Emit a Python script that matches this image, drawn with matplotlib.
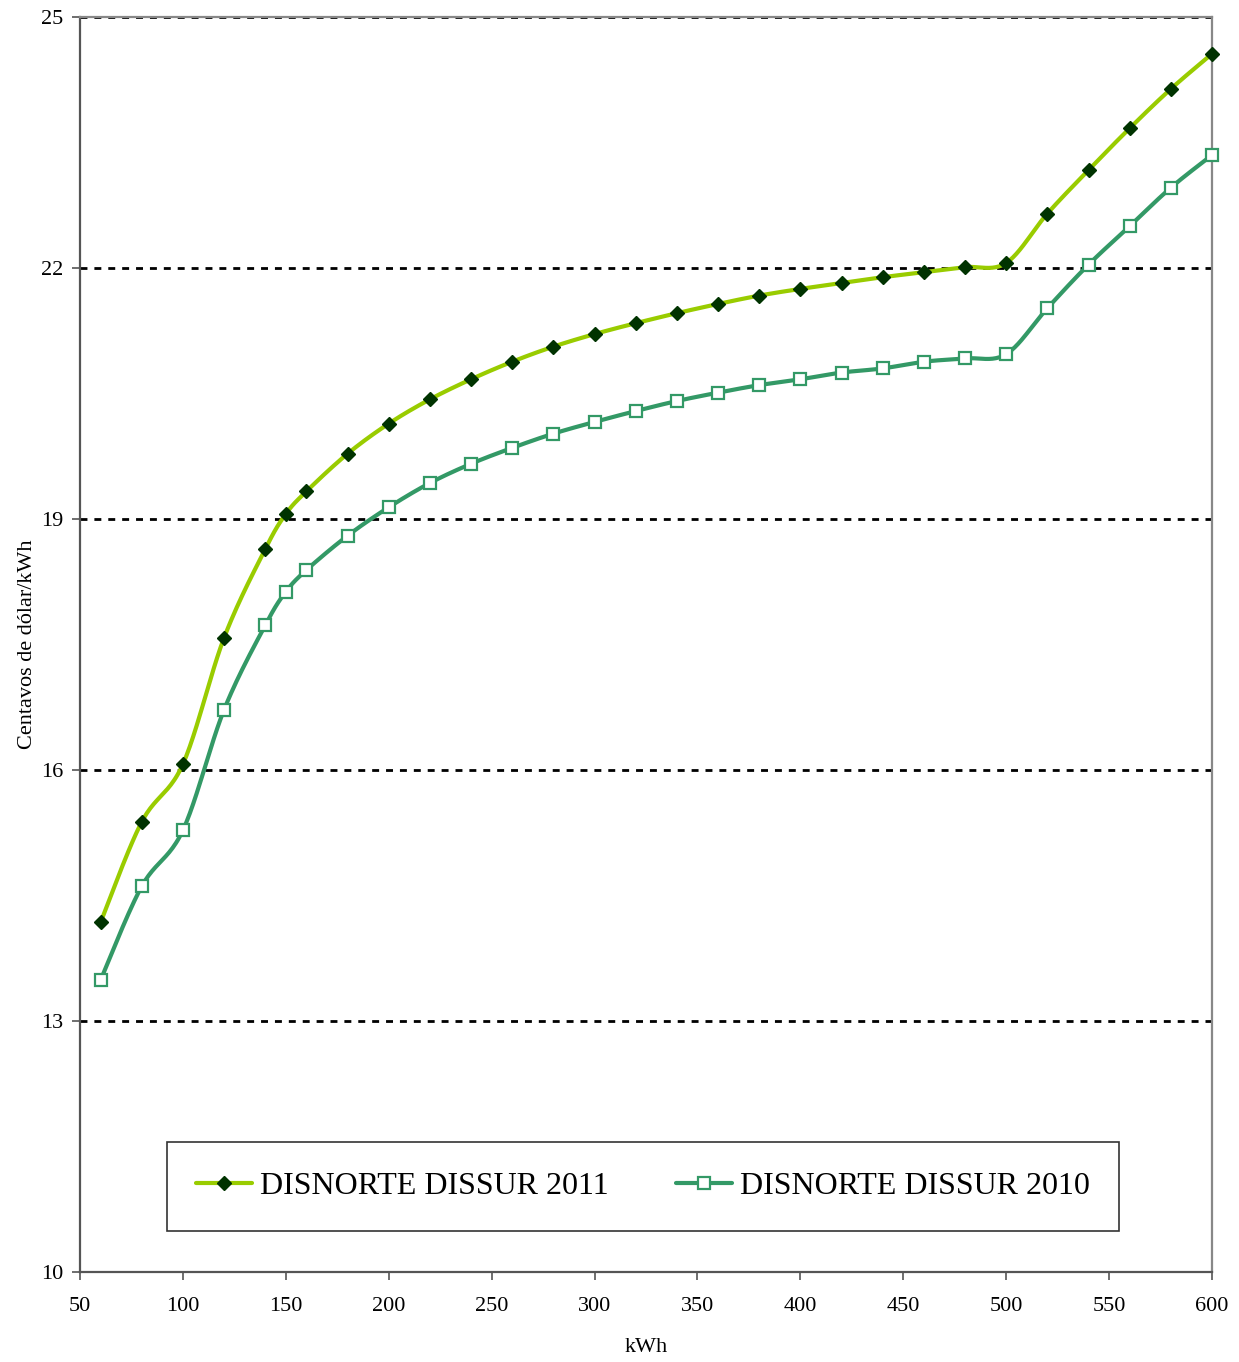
import numpy as np
import matplotlib
matplotlib.use("Agg")
import matplotlib.pyplot as plt
from matplotlib.lines import Line2D

kwh = [60, 80, 100, 120, 140, 150, 160, 180, 200, 220, 240, 260, 280, 300, 320,
       340, 360, 380, 400, 420, 440, 460, 480, 500, 520, 540, 560, 580, 600]
tarifa_2011 = [14.18, 15.38, 16.07, 17.58, 18.64, 19.06, 19.33, 19.78, 20.14, 20.43,
               20.67, 20.88, 21.06, 21.21, 21.34, 21.46, 21.57, 21.67, 21.75, 21.82,
               21.89, 21.95, 22.01, 22.06, 22.65, 23.17, 23.67, 24.14, 24.56]
tarifa_2010 = [13.49, 14.61, 15.28, 16.72, 17.73, 18.13, 18.39, 18.80, 19.14, 19.43,
               19.66, 19.85, 20.02, 20.16, 20.29, 20.41, 20.51, 20.60, 20.67, 20.75,
               20.80, 20.88, 20.92, 20.97, 21.52, 22.04, 22.50, 22.96, 23.35]
label_2011 = "DISNORTE DISSUR 2011"
label_2010 = "DISNORTE DISSUR 2010"
xticks = [50, 100, 150, 200, 250, 300, 350, 400, 450, 500, 550, 600]
yticks = [10, 13, 16, 19, 22, 25]


def smooth(xs, ys, n=24):
    """Uniform Catmull-Rom curve through the points (Excel-like smoothing)."""
    x = np.asarray(xs, float)
    y = np.asarray(ys, float)
    px = np.concatenate([[x[0]], x, [x[-1]]])
    py = np.concatenate([[y[0]], y, [y[-1]]])
    t = np.linspace(0, 1, n, endpoint=False)
    ox, oy = [], []
    for i in range(1, len(px) - 2):
        for arr, out in ((px, ox), (py, oy)):
            p0, p1, p2, p3 = arr[i - 1], arr[i], arr[i + 1], arr[i + 2]
            out.extend(0.5 * ((2 * p1) + (-p0 + p2) * t
                              + (2 * p0 - 5 * p1 + 4 * p2 - p3) * t ** 2
                              + (-p0 + 3 * p1 - 3 * p2 + p3) * t ** 3))
    ox.append(x[-1])
    oy.append(y[-1])
    return np.array(ox), np.array(oy)


plt.rcParams['font.family'] = ['Liberation Serif', 'DejaVu Serif']

fig = plt.figure(figsize=(12.39, 13.62), dpi=100)
ax = fig.add_axes([80 / 1239, 90 / 1362, 1132 / 1239, 1255 / 1362])

c2011_line = '#99CC00'
c2011_mark = '#003300'
c2010 = '#339966'

for yv in yticks[1:]:
    ax.axhline(yv, color='black', lw=2.0, ls=(0, (2.5, 2.5)), zorder=1)

sx, sy = smooth(kwh, tarifa_2011)
ax.plot(sx, sy, color=c2011_line, lw=3.0, zorder=3, solid_capstyle='round')
ax.plot(kwh, tarifa_2011, ls='none', marker='D', ms=7.5, color=c2011_mark,
        mec=c2011_mark, zorder=4, clip_on=False)

sx, sy = smooth(kwh, tarifa_2010)
ax.plot(sx, sy, color=c2010, lw=3.0, zorder=3, solid_capstyle='round')
ax.plot(kwh, tarifa_2010, ls='none', marker='s', ms=8.5, mfc='white', mec=c2010,
        mew=1.6, zorder=4, clip_on=False)

ax.set_xlim(50, 600)
ax.set_ylim(10, 25)
ax.set_xticks(xticks)
ax.set_yticks(yticks)
ax.tick_params(axis='both', direction='out', length=6, width=1.2, color='#555555',
               labelsize=16)
ax.tick_params(axis='x', pad=12)
ax.tick_params(axis='y', pad=6)

for side in ['left', 'bottom']:
    ax.spines[side].set_color('#555555')
    ax.spines[side].set_linewidth(1.6)
for side in ['top', 'right']:
    ax.spines[side].set_color('#888888')
    ax.spines[side].set_linewidth(1.6)

ax.set_xlabel('kWh', fontsize=16, labelpad=16)
ax.set_ylabel('Centavos de dólar/kWh', fontsize=16, labelpad=3)

handles = [
    Line2D([], [], color=c2011_line, lw=3.0, marker='D', ms=7.5, mfc=c2011_mark,
           mec=c2011_mark, solid_capstyle='round'),
    Line2D([], [], color=c2010, lw=3.0, marker='s', ms=8.5, mfc='white', mec=c2010,
           mew=1.6, solid_capstyle='round'),
]
leg = fig.legend(handles, [label_2011, label_2010], ncol=2,
                 loc='center', bbox_to_anchor=(643 / 1239, 1 - 1186.5 / 1362),
                 fontsize=23, frameon=True, fancybox=False, edgecolor='black',
                 handlelength=1.75, handletextpad=0.25, columnspacing=2.1,
                 borderpad=0.92, borderaxespad=0)
leg.get_frame().set_linewidth(1.2)

fig.savefig('out.png', dpi=100, facecolor='white')
